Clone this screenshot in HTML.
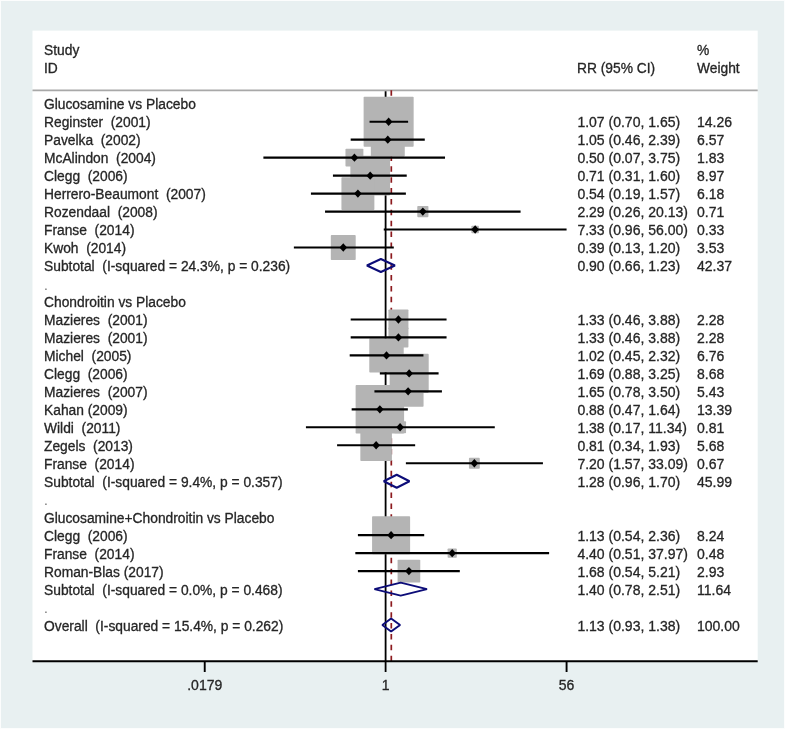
<!DOCTYPE html>
<html><head><meta charset="utf-8"><style>
html,body{margin:0;padding:0;background:#fff;overflow:hidden;}
svg{display:block}
.gt{filter:grayscale(1);}
text{font-family:"Liberation Sans",sans-serif;fill:#262626;stroke:#262626;stroke-width:0.3px;}
</style></head><body>
<svg width="785" height="729" viewBox="0 0 785 729">
<rect x="0" y="0" width="785" height="729" fill="#fcfdfd"/>
<rect x="1" y="1" width="783" height="727" fill="#e8f0f1"/>
<rect x="32.5" y="30.6" width="725.2" height="630.7" fill="#ffffff"/>

<g class="gt" font-size="13.8">
<text x="44" y="55.46">Study</text>
<text x="44" y="73.44">ID</text>
</g>
<g class="gt" font-size="14.0">
<text x="577" y="73.44" font-size="13.8">RR (95% CI)</text>
<text x="697" y="55.46" font-size="13.8">%</text>
<text x="697" y="73.44" font-size="13.8">Weight</text>
</g>
<line x1="32.5" y1="90.4" x2="757.7" y2="90.4" stroke="#a8a8a8" stroke-width="1.6"/>
<line x1="385.6" y1="91.2" x2="385.6" y2="672" stroke="#000" stroke-width="1.8"/>
<line x1="391.30" y1="661.2" x2="391.30" y2="90" stroke="#8c1a1e" stroke-width="1.7" stroke-dasharray="5.5 5.375"/>
<rect x="363.62" y="96.68" width="50.04" height="50.04" fill="#b4b4b4" rx="0.8"/>
<rect x="370.81" y="122.69" width="33.96" height="33.96" fill="#b4b4b4" rx="0.8"/>
<rect x="345.47" y="148.69" width="17.92" height="17.92" fill="#b4b4b4" rx="0.8"/>
<rect x="350.36" y="155.79" width="39.68" height="39.68" fill="#b4b4b4" rx="0.8"/>
<rect x="341.43" y="177.14" width="32.94" height="32.94" fill="#b4b4b4" rx="0.8"/>
<rect x="417.27" y="206.00" width="11.16" height="11.16" fill="#b4b4b4" rx="0.8"/>
<rect x="471.35" y="225.75" width="7.61" height="7.61" fill="#b4b4b4" rx="0.8"/>
<rect x="330.82" y="235.09" width="24.89" height="24.89" fill="#b4b4b4" rx="0.8"/>
<rect x="388.42" y="309.44" width="20.01" height="20.01" fill="#b4b4b4" rx="0.8"/>
<rect x="388.42" y="327.42" width="20.01" height="20.01" fill="#b4b4b4" rx="0.8"/>
<rect x="369.27" y="338.17" width="34.45" height="34.45" fill="#b4b4b4" rx="0.8"/>
<rect x="389.67" y="353.86" width="39.04" height="39.04" fill="#b4b4b4" rx="0.8"/>
<rect x="392.68" y="375.91" width="30.88" height="30.88" fill="#b4b4b4" rx="0.8"/>
<rect x="355.61" y="385.09" width="48.48" height="48.48" fill="#b4b4b4" rx="0.8"/>
<rect x="394.12" y="421.34" width="11.93" height="11.93" fill="#b4b4b4" rx="0.8"/>
<rect x="360.34" y="429.49" width="31.58" height="31.58" fill="#b4b4b4" rx="0.8"/>
<rect x="468.93" y="457.84" width="10.85" height="10.85" fill="#b4b4b4" rx="0.8"/>
<rect x="372.08" y="516.15" width="38.03" height="38.03" fill="#b4b4b4" rx="0.8"/>
<rect x="447.62" y="548.56" width="9.18" height="9.18" fill="#b4b4b4" rx="0.8"/>
<rect x="397.58" y="559.78" width="22.68" height="22.68" fill="#b4b4b4" rx="0.8"/>
<line x1="369.56" y1="121.70" x2="408.11" y2="121.70" stroke="#000" stroke-width="2.1"/>
<path d="M384.84 121.70L388.64 117.50L392.44 121.70L388.64 125.90Z" fill="#000"/>
<line x1="350.69" y1="139.67" x2="424.77" y2="139.67" stroke="#000" stroke-width="2.1"/>
<path d="M383.99 139.67L387.79 135.47L391.59 139.67L387.79 143.87Z" fill="#000"/>
<line x1="263.39" y1="157.65" x2="445.03" y2="157.65" stroke="#000" stroke-width="2.1"/>
<path d="M350.64 157.65L354.44 153.45L358.24 157.65L354.44 161.85Z" fill="#000"/>
<line x1="332.94" y1="175.63" x2="406.73" y2="175.63" stroke="#000" stroke-width="2.1"/>
<path d="M366.40 175.63L370.20 171.43L374.00 175.63L370.20 179.83Z" fill="#000"/>
<line x1="310.93" y1="193.61" x2="405.88" y2="193.61" stroke="#000" stroke-width="2.1"/>
<path d="M354.10 193.61L357.90 189.41L361.70 193.61L357.90 197.81Z" fill="#000"/>
<line x1="325.04" y1="211.58" x2="520.58" y2="211.58" stroke="#000" stroke-width="2.1"/>
<path d="M419.05 211.58L422.85 207.38L426.65 211.58L422.85 215.78Z" fill="#000"/>
<line x1="383.76" y1="229.56" x2="566.58" y2="229.56" stroke="#000" stroke-width="2.1"/>
<path d="M471.36 229.56L475.16 225.36L478.96 229.56L475.16 233.76Z" fill="#000"/>
<line x1="293.87" y1="247.54" x2="393.80" y2="247.54" stroke="#000" stroke-width="2.1"/>
<path d="M339.47 247.54L343.27 243.34L347.07 247.54L343.27 251.74Z" fill="#000"/>
<line x1="350.69" y1="319.44" x2="446.56" y2="319.44" stroke="#000" stroke-width="2.1"/>
<path d="M394.62 319.44L398.42 315.24L402.22 319.44L398.42 323.64Z" fill="#000"/>
<line x1="350.69" y1="337.42" x2="446.56" y2="337.42" stroke="#000" stroke-width="2.1"/>
<path d="M394.62 337.42L398.42 333.22L402.22 337.42L398.42 341.62Z" fill="#000"/>
<line x1="349.70" y1="355.40" x2="423.44" y2="355.40" stroke="#000" stroke-width="2.1"/>
<path d="M382.69 355.40L386.49 351.20L390.29 355.40L386.49 359.60Z" fill="#000"/>
<line x1="379.85" y1="373.38" x2="438.59" y2="373.38" stroke="#000" stroke-width="2.1"/>
<path d="M405.39 373.38L409.19 369.18L412.99 373.38L409.19 377.57Z" fill="#000"/>
<line x1="374.43" y1="391.35" x2="441.92" y2="391.35" stroke="#000" stroke-width="2.1"/>
<path d="M404.31 391.35L408.11 387.15L411.91 391.35L408.11 395.55Z" fill="#000"/>
<line x1="351.65" y1="409.33" x2="407.84" y2="409.33" stroke="#000" stroke-width="2.1"/>
<path d="M376.05 409.33L379.85 405.13L383.65 409.33L379.85 413.53Z" fill="#000"/>
<line x1="305.93" y1="427.31" x2="494.78" y2="427.31" stroke="#000" stroke-width="2.1"/>
<path d="M396.28 427.31L400.08 423.11L403.88 427.31L400.08 431.51Z" fill="#000"/>
<line x1="337.10" y1="445.28" x2="415.16" y2="445.28" stroke="#000" stroke-width="2.1"/>
<path d="M372.33 445.28L376.13 441.08L379.93 445.28L376.13 449.48Z" fill="#000"/>
<line x1="405.88" y1="463.26" x2="542.93" y2="463.26" stroke="#000" stroke-width="2.1"/>
<path d="M470.55 463.26L474.35 459.06L478.15 463.26L474.35 467.46Z" fill="#000"/>
<line x1="357.90" y1="535.17" x2="424.21" y2="535.17" stroke="#000" stroke-width="2.1"/>
<path d="M387.29 535.17L391.09 530.97L394.89 535.17L391.09 539.37Z" fill="#000"/>
<line x1="355.33" y1="553.14" x2="549.11" y2="553.14" stroke="#000" stroke-width="2.1"/>
<path d="M448.41 553.14L452.21 548.94L456.01 553.14L452.21 557.35Z" fill="#000"/>
<line x1="357.90" y1="571.12" x2="459.81" y2="571.12" stroke="#000" stroke-width="2.1"/>
<path d="M405.12 571.12L408.92 566.92L412.72 571.12L408.92 575.32Z" fill="#000"/>
<path d="M366.92 265.51L380.86 259.01L394.91 265.51L380.86 272.01Z" fill="none" stroke="#0c0c78" stroke-width="2" stroke-linejoin="bevel"/>
<path d="M383.76 481.24L396.70 474.74L409.46 481.24L396.70 487.74Z" fill="none" stroke="#0c0c78" stroke-width="2" stroke-linejoin="bevel"/>
<path d="M374.43 589.10L400.73 582.60L426.98 589.10L400.73 595.60Z" fill="none" stroke="#0c0c78" stroke-width="2" stroke-linejoin="bevel"/>
<path d="M382.34 625.05L391.09 618.55L400.08 625.05L391.09 631.55Z" fill="none" stroke="#0c0c78" stroke-width="2" stroke-linejoin="bevel"/>
<line x1="32.5" y1="661.3" x2="757.7" y2="661.3" stroke="#000" stroke-width="1.9"/>
<line x1="204.73" y1="661.3" x2="204.73" y2="672" stroke="#000" stroke-width="1.9"/>
<line x1="566.58" y1="661.3" x2="566.58" y2="672" stroke="#000" stroke-width="1.9"/>
<g class="gt" font-size="14.0" text-anchor="middle">
<text x="204.73" y="689.5">.0179</text>
<text x="385.6" y="689.5">1</text>
<text x="566.58" y="689.5">56</text>
</g>
<g class="gt" font-size="13.8">
<text x="44" y="109.40" xml:space="preserve">Glucosamine vs Placebo</text>
<text x="44" y="127.38" xml:space="preserve">Reginster  (2001)</text>
<text x="44" y="145.36" xml:space="preserve">Pavelka  (2002)</text>
<text x="44" y="163.34" xml:space="preserve">McAlindon  (2004)</text>
<text x="44" y="181.32" xml:space="preserve">Clegg  (2006)</text>
<text x="44" y="199.30" xml:space="preserve">Herrero-Beaumont  (2007)</text>
<text x="44" y="217.28" xml:space="preserve">Rozendaal  (2008)</text>
<text x="44" y="235.26" xml:space="preserve">Franse  (2014)</text>
<text x="44" y="253.24" xml:space="preserve">Kwoh  (2014)</text>
<text x="44" y="271.22" xml:space="preserve">Subtotal  (I-squared = 24.3%, p = 0.236)</text>
<text x="44" y="289.50" style="fill:#707070;stroke:none">.</text>
<text x="44" y="307.18" xml:space="preserve">Chondroitin vs Placebo</text>
<text x="44" y="325.16" xml:space="preserve">Mazieres  (2001)</text>
<text x="44" y="343.14" xml:space="preserve">Mazieres  (2001)</text>
<text x="44" y="361.12" xml:space="preserve">Michel  (2005)</text>
<text x="44" y="379.10" xml:space="preserve">Clegg  (2006)</text>
<text x="44" y="397.08" xml:space="preserve">Mazieres  (2007)</text>
<text x="44" y="415.06" xml:space="preserve">Kahan (2009)</text>
<text x="44" y="433.04" xml:space="preserve">Wildi  (2011)</text>
<text x="44" y="451.02" xml:space="preserve">Zegels  (2013)</text>
<text x="44" y="469.00" xml:space="preserve">Franse  (2014)</text>
<text x="44" y="486.98" xml:space="preserve">Subtotal  (I-squared = 9.4%, p = 0.357)</text>
<text x="44" y="505.26" style="fill:#707070;stroke:none">.</text>
<text x="44" y="522.94" xml:space="preserve">Glucosamine+Chondroitin vs Placebo</text>
<text x="44" y="540.92" xml:space="preserve">Clegg  (2006)</text>
<text x="44" y="558.90" xml:space="preserve">Franse  (2014)</text>
<text x="44" y="576.88" xml:space="preserve">Roman-Blas (2017)</text>
<text x="44" y="594.86" xml:space="preserve">Subtotal  (I-squared = 0.0%, p = 0.468)</text>
<text x="44" y="613.14" style="fill:#707070;stroke:none">.</text>
<text x="44" y="630.82" xml:space="preserve">Overall  (I-squared = 15.4%, p = 0.262)</text>
</g>
<g class="gt" font-size="14.0">
<text x="577.4" y="127.38">1.07 (0.70, 1.65)</text>
<text x="697" y="127.38">14.26</text>
<text x="577.4" y="145.36">1.05 (0.46, 2.39)</text>
<text x="697" y="145.36">6.57</text>
<text x="577.4" y="163.34">0.50 (0.07, 3.75)</text>
<text x="697" y="163.34">1.83</text>
<text x="577.4" y="181.32">0.71 (0.31, 1.60)</text>
<text x="697" y="181.32">8.97</text>
<text x="577.4" y="199.30">0.54 (0.19, 1.57)</text>
<text x="697" y="199.30">6.18</text>
<text x="577.4" y="217.28">2.29 (0.26, 20.13)</text>
<text x="697" y="217.28">0.71</text>
<text x="577.4" y="235.26">7.33 (0.96, 56.00)</text>
<text x="697" y="235.26">0.33</text>
<text x="577.4" y="253.24">0.39 (0.13, 1.20)</text>
<text x="697" y="253.24">3.53</text>
<text x="577.4" y="271.22">0.90 (0.66, 1.23)</text>
<text x="697" y="271.22">42.37</text>
<text x="577.4" y="325.16">1.33 (0.46, 3.88)</text>
<text x="697" y="325.16">2.28</text>
<text x="577.4" y="343.14">1.33 (0.46, 3.88)</text>
<text x="697" y="343.14">2.28</text>
<text x="577.4" y="361.12">1.02 (0.45, 2.32)</text>
<text x="697" y="361.12">6.76</text>
<text x="577.4" y="379.10">1.69 (0.88, 3.25)</text>
<text x="697" y="379.10">8.68</text>
<text x="577.4" y="397.08">1.65 (0.78, 3.50)</text>
<text x="697" y="397.08">5.43</text>
<text x="577.4" y="415.06">0.88 (0.47, 1.64)</text>
<text x="697" y="415.06">13.39</text>
<text x="577.4" y="433.04">1.38 (0.17, 11.34)</text>
<text x="697" y="433.04">0.81</text>
<text x="577.4" y="451.02">0.81 (0.34, 1.93)</text>
<text x="697" y="451.02">5.68</text>
<text x="577.4" y="469.00">7.20 (1.57, 33.09)</text>
<text x="697" y="469.00">0.67</text>
<text x="577.4" y="486.98">1.28 (0.96, 1.70)</text>
<text x="697" y="486.98">45.99</text>
<text x="577.4" y="540.92">1.13 (0.54, 2.36)</text>
<text x="697" y="540.92">8.24</text>
<text x="577.4" y="558.90">4.40 (0.51, 37.97)</text>
<text x="697" y="558.90">0.48</text>
<text x="577.4" y="576.88">1.68 (0.54, 5.21)</text>
<text x="697" y="576.88">2.93</text>
<text x="577.4" y="594.86">1.40 (0.78, 2.51)</text>
<text x="697" y="594.86">11.64</text>
<text x="577.4" y="630.82">1.13 (0.93, 1.38)</text>
<text x="697" y="630.82">100.00</text>
</g>
</svg></body></html>
